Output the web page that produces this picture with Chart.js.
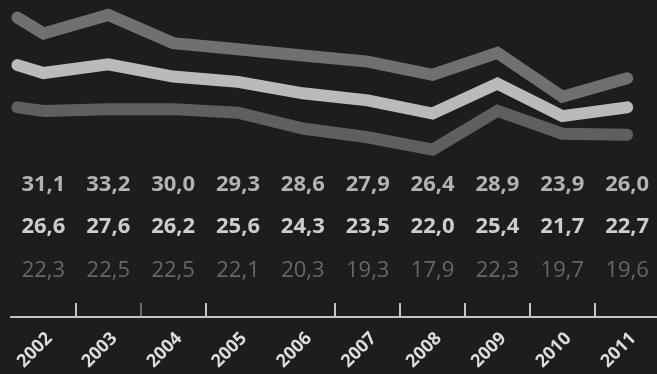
<!DOCTYPE html>
<html>
<head>
<meta charset="utf-8">
<script src="https://cdn.jsdelivr.net/npm/chart.js"></script>
<style>
  html, body { margin: 0; padding: 0; background: #1f1c1d; }
  #wrap { width: 657px; height: 374px; position: relative; }
</style>
</head>
<body>
<div id="wrap"><canvas id="grafico"></canvas></div>
<script>
// datos
const years = [2002, 2003, 2004, 2005, 2006, 2007, 2008, 2009, 2010, 2011];
const upper = [31.1, 33.2, 30.0, 29.3, 28.6, 27.9, 26.4, 28.9, 23.9, 26.0];
const middle = [26.6, 27.6, 26.2, 25.6, 24.3, 23.5, 22.0, 25.4, 21.7, 22.7];
const lower = [22.3, 22.5, 22.5, 22.1, 20.3, 19.3, 17.9, 22.3, 19.7, 19.6];

// tramo inicial de las líneas, antes de 2002
const leadYear = 2001.6;
const leadValues = [32.9, 27.5, 22.7];

function puntos(valores, inicio) {
  return [{ x: leadYear, y: inicio }].concat(years.map((y, i) => ({ x: y, y: valores[i] })));
}

function formato(v) {
  return v.toFixed(1).replace('.', ',');
}

// tabla de valores bajo las líneas
const tablaPlugin = {
  id: 'tabla',
  afterDraw(chart) {
    const ctx = chart.ctx;
    const xs = chart.scales.x;
    const filas = [
      { datos: upper, y: 185, font: '700 22px "Open Sans"', color: '#b3b3b3' },
      { datos: middle, y: 227, font: '700 22px "Open Sans"', color: '#cdcdcd' },
      { datos: lower, y: 271, font: '400 22px "Open Sans"', color: '#676767' }
    ];
    ctx.save();
    ctx.textAlign = 'center';
    ctx.textBaseline = 'middle';
    filas.forEach(f => {
      ctx.font = f.font;
      ctx.fillStyle = f.color;
      f.datos.forEach((v, i) => {
        ctx.fillText(formato(v), xs.getPixelForValue(years[i]), f.y);
      });
    });
    ctx.restore();
  }
};

const ctx = document.getElementById('grafico').getContext('2d');

new Chart(ctx, {
  type: 'line',
  data: {
    datasets: [
      { data: puntos(upper, leadValues[0]), borderColor: '#707070' },
      { data: puntos(middle, leadValues[1]), borderColor: '#bababa' },
      { data: puntos(lower, leadValues[2]), borderColor: '#5f5f5f' }
    ]
  },
  options: {
    responsive: true,
    maintainAspectRatio: false,
    animation: false,
    events: [],
    layout: { padding: { left: 11, right: 0, top: 0, bottom: 0 } },
    elements: {
      line: { borderWidth: 12, borderCapStyle: 'round', borderJoinStyle: 'miter', tension: 0 },
      point: { radius: 0 }
    },
    plugins: {
      legend: { display: false },
      tooltip: { enabled: false }
    },
    scales: {
      y: { display: false, min: -1.12, max: 34.9 },
      x: {
        type: 'linear',
        min: 2001.5,
        max: 2011.46,
        afterBuildTicks: (scale) => {
          scale.ticks = years.map(v => ({ value: v }));
        },
        afterFit: (scale) => {
          scale.height = 57;
          scale.paddingLeft = 0;
          scale.paddingRight = 0;
        },
        border: { display: true, color: '#c4c4c4', width: 2 },
        grid: {
          offset: true,
          drawOnChartArea: false,
          drawTicks: true,
          tickLength: -14,
          lineWidth: 2,
          tickWidth: 2,
          tickColor: (c) => {
            if (c.index === 0 || c.index === 4) return 'rgba(0,0,0,0)';
            if (c.index === 2) return '#6a6a6a';
            return '#c4c4c4';
          }
        },
        ticks: {
          autoSkip: false,
          maxRotation: 45,
          minRotation: 45,
          padding: 25,
          labelOffset: 6,
          color: '#dcdcdc',
          font: { family: 'Open Sans', size: 18, weight: '700' },
          callback: (v) => String(v)
        }
      }
    }
  },
  plugins: [tablaPlugin]
});
</script>
</body>
</html>
